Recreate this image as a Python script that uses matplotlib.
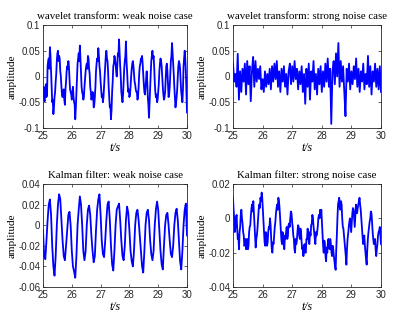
import numpy as np
import matplotlib
matplotlib.use("Agg")
import matplotlib.pyplot as plt

# signal values, in units of 1e-3, evenly spaced from t=25 to t=30
wt_weak = [-30, -20, -45, -48, -25, -15, -40, -35, 20, 30, 35, 15, 57, 40, 10, -25,
           -50, -45, -73, -60, -40, -30, -10, 5, 30, 45, 50, 30, 40, 35, 10, 0,
           -20, -35, -40, -30, -25, -45, -55, -25, -10, 10, 20, 15, 30, 20, -5, -25,
           -30, -35, -45, -30, -20, -40, -50, -55, -83, -60, -30, 0, 25, 35, 45, 30,
           60, 35, 5, -20, -30, -35, -45, -40, -20, -5, 10, 20, 25, 15, 40, 35,
           15, 5, -20, -30, -45, -40, -30, -35, -60, -55, -40, -20, 10, 25, 35, 30,
           55, 40, 20, 10, -10, -25, -40, -35, -50, -40, -20, 0, 20, 40, 50, 35,
           30, 10, -20, -40, -60, -55, -83, -65, -30, -10, 20, 25, 40, 35, 25, 10,
           0, 20, 45, 40, 72, 45, 20, 0, -30, -40, -50, -35, -10, 15, 30, 40,
           68, 30, 10, -15, -30, -25, -40, -35, -20, 0, 15, 25, 30, 20, 5, -10,
           -15, -25, -30, -30, -45, -40, -20, 5, 20, 25, 35, 30, 40, 25, 5, -15,
           -30, -35, -20, -5, 10, -10, -40, -55, -80, -50, -20, 5, 30, 40, 50, 35,
           40, 20, -10, -30, -40, -35, -50, -45, -30, -15, 10, 25, 35, 30, 20, 0,
           -20, -35, -45, -40, -30, -5, 20, 25, 10, -15, -40, -35, -20, 5, 30, 40,
           65, 45, 25, 5, -20, -40, -60, -50, -40, -25, 0, 20, 30, 25, 15, -10,
           -30, -40, -50, -25, 20, 35, 50, 35, 10, -30, -70]

wt_strong = [27, -10, 5, -20, 44, -45, 10, -30, 15, -10, 25, -35, 30, -15, 20, -48,
             10, 38, -20, 30, -10, 15, -5, 20, -25, -5, -30, 10, -20, 5, -15, 15,
             -25, 20, -10, 25, -5, 30, -20, 10, -30, 15, -10, 20, -20, 5, -35, 10,
             25, -15, 20, -10, 30, -5, 15, -25, 10, -15, 20, -30, 5, -53, 15, -20,
             25, -45, 10, -10, 30, -25, 5, -35, 15, -15, 20, -30, 10, -20, 25, -10,
             35, -20, 15, -92, 10, 30, -15, 45, 0, 65, -20, 30, -10, 20, -30, -77,
             15, -10, 25, -25, 10, -15, 20, -5, 35, -20, 15, -30, 10, -10, 25, -25,
             5, -15, 40, -20, 20, -35, 10, -10, 25, -20, 15, -25, 20, -30]

kf_weak = [-5, -30, -33, -15, 5, 20, 25, 10, -20, -40, -49, -30, 0, 20, 30, 25,
           5, -15, -30, -34, -20, -5, 10, 13, 0, -25, -40, -45, -51, -30, 0, 15,
           28, 20, 0, -25, -34, -25, 0, 15, 19, 10, -10, -25, -36, -30, -5, 15,
           25, 30, 10, -15, -28, -31, -15, 5, 20, 23, 5, -20, -38, -44, -25, 0,
           15, 18, 21, 5, -15, -30, -34, -20, 5, 18, 12, -5, -25, -35, -40, -25,
           0, 12, 15, 5, -10, -25, -40, -46, -25, 0, 12, 15, 5, -15, -28, -34,
           -25, 0, 15, 23, 15, -5, -25, -38, -43, -20, 0, 10, 12, 0, -15, -28,
           -31, -20, 0, 12, 16, 5, -15, -35, -43, -25, 0, 15, 21, -10]

kf_strong = [12, 5, 0, -8, -5, 0, 2, -6, -12, -10, -18, -8, -5, 2, 5, 0,
             -3, -8, -10, -16, -15, -12, -18, -14, -12, -18, -16, -8, -5, -4, 2, 6,
             8, 4, 10, 3, -5, -12, -17, -12, -10, -6, 0, 5, 8, 6, 12, 10,
             15, 12, 5, -2, -8, -14, -16, -8, -10, -16, -14, -8, -5, -6, 0, -4,
             -12, -18, -20, -14, -15, -10, -5, -2, 3, 6, 8, 5, 12, 10, 6, 0,
             -5, -12, -15, -8, -10, -16, -18, -10, -12, -8, -5, -12, -10, -4, -3, -5,
             0, 4, 3, -2, -5, -10, -12, -18, -20, -12, -15, -13, -8, -4, -5, -10,
             -12, -6, -8, -14, -18, -17, -22, -16, -15, -20, -20, -12, -12, -6, -8, -14,
             -15, -8, -10, -4, -3, 2, 0, -5, -8, -12, -15, -8, -10, -8, -5, 0,
             2, 0, 5, 2, 5, -2, -10, -16, -20, -13, -15, -22, -25, -17, -20, -14,
             -12, -16, -18, -12, -15, -20, -22, -16, -18, -22, -25, -28, -30, -18, -10, 0,
             8, 10, 12, 6, 5, 10, 8, 0, -5, -6, -10, -14, -18, -22, -27, -18,
             -12, -9, -5, -2, 0, -4, -8, -2, 3, 6, 5, 0, -5, 2, 8, 4,
             3, 6, 8, 10, 12, 8, 5, 0, -5, -10, -15, -12, -10, -16, -20, -24,
             -27, -18, -12, -8, -5, -2, 0, 4, 3, -2, -8, -12, -15, -14, -12, -18,
             -22, -18, -15, -10, -8, -7, -5, -10, -15]

titles = ["wavelet transform: weak noise case", "wavelet transform: strong noise case",
          "Kalman filter: weak noise case", "Kalman filter: strong noise case"]
yticks = [[-0.1, -0.05, 0, 0.05, 0.1], [-0.1, -0.05, 0, 0.05, 0.1],
          [-0.06, -0.04, -0.02, 0, 0.02, 0.04], [-0.04, -0.02, 0, 0.02]]
ytick_labels = [["-0.1", "-0.05", "0", "0.05", "0.1"], ["-0.1", "-0.05", "0", "0.05", "0.1"],
                ["-0.06", "-0.04", "-0.02", "0", "0.02", "0.04"], ["-0.04", "-0.02", "0", "0.02"]]
xticks = [25, 26, 27, 28, 29, 30]

signals = [wt_weak, wt_strong, kf_weak, kf_strong]
boxes = [[43, 25, 187, 128], [233, 25, 381, 128], [43, 184, 187, 287], [233, 184, 381, 287]]

W, H = 397, 325
fig = plt.figure(figsize=(W / 100, H / 100), dpi=100)
axcol = (0.15, 0.15, 0.15)

for sig, ttl, yt, ytl, (x0, y0, x1, y1) in zip(signals, titles, yticks, ytick_labels, boxes):
    ax = fig.add_axes([x0 / W, 1 - y1 / H, (x1 - x0) / W, (y1 - y0) / H])
    vals = np.array(sig) / 1000.0
    t = np.linspace(25, 30, len(vals))
    ax.plot(t, vals, color=(0, 0, 1), lw=1.3)
    ax.set_xlim(25, 30)
    ax.set_ylim(yt[0], yt[-1])
    ax.set_xticks(xticks)
    ax.set_xticklabels([str(x) for x in xticks], family="Liberation Sans", fontsize=7)
    ax.set_yticks(yt)
    ax.set_yticklabels(ytl, family="Liberation Sans", fontsize=7)
    ax.tick_params(direction="in", length=2.5, width=0.5, colors=axcol, pad=2,
                   top=True, right=True)
    for s in ax.spines.values():
        s.set_linewidth(0.6)
        s.set_color(axcol)
    ax.set_title(ttl, family="Liberation Serif", fontsize=7.8, pad=4)
    ax.set_xlabel("t/s", family="Liberation Serif", style="italic", fontsize=8.5, labelpad=1)
    ax.set_ylabel("amplitude", family="Liberation Serif", fontsize=8, labelpad=1)

fig.savefig("out.png", dpi=100)
